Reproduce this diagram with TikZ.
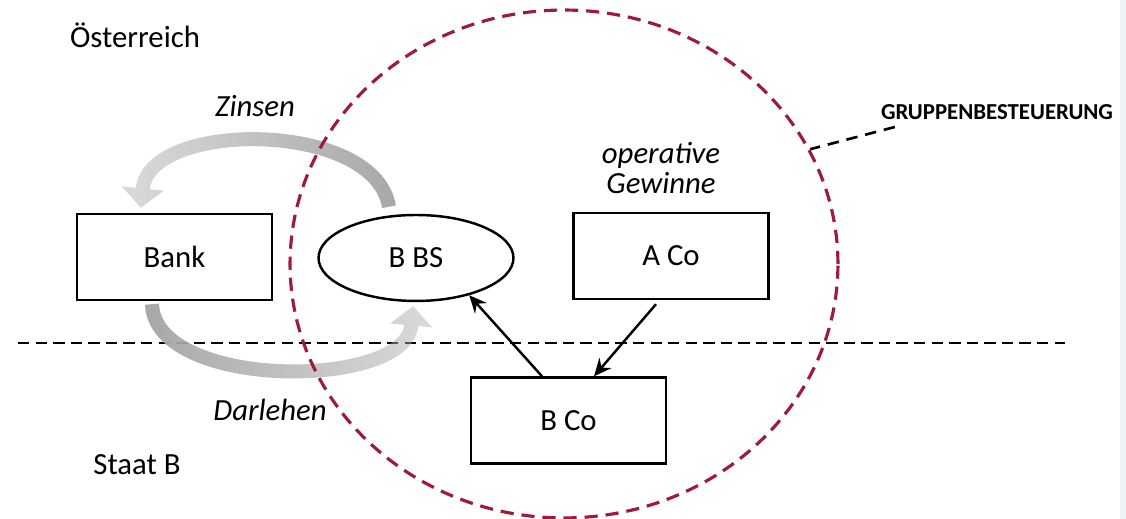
\documentclass[tikz,border=0pt]{standalone}
\usepackage{fontspec}
\setmainfont{Carlito}
\usetikzlibrary{arrows.meta,calc,shapes.geometric,positioning,fadings}
\definecolor{gruppered}{HTML}{9E1B3C}
\definecolor{flowgray}{HTML}{A8A8A8}
\definecolor{pagestrip}{HTML}{EEF2F5}
\tikzfading[name=fadetoleft, left color=transparent!55, right color=transparent!0]
\tikzfading[name=fadetoright, left color=transparent!0, right color=transparent!55]

\begin{document}
\begin{tikzpicture}[
    x=0.02cm, y=0.02cm,
    every node/.append style={font=\fontsize{17.5}{17}\selectfont},
    block/.style={rectangle, draw, line width=1.4pt, minimum width=3.9cm, minimum height=1.72cm},
    oval/.style={ellipse, draw, line width=1.4pt, minimum width=3.9cm, minimum height=1.72cm, inner sep=0pt},
    line/.style={draw, line width=1.4pt, -{Stealth[length=10pt,width=9pt,inset=3.5pt]}},
    flow/.style={draw=flowgray, line width=8pt, -{Triangle[length=11pt,width=24pt,line width=0pt]}},
    flowtext/.style={font=\fontsize{17.5}{17}\selectfont\itshape},
    border/.style={draw, line width=1.6pt, dash pattern=on 6.5pt off 3.5pt},
    leader/.style={draw, line width=1.5pt, dash pattern=on 6.5pt off 4.5pt}
]
\useasboundingbox (0,0) rectangle (1126,519);
\fill[pagestrip] (1120,0) rectangle (1126,519);

% Blocks
\node[block] (bank) at (174.5,262) {Bank};
\node[oval] (bbs) at (416,261) {B BS};
\node[block] (aco) at (671,263) {A Co};
\node[block] (bco) at (568.5,98.5) {B Co};

% Border
\coordinate (west) at (18,176);
\coordinate (east) at (1065,176);
\draw[border] (west) -- (east);

% Flows
\draw[flow, path fading=fadetoleft] ($(bbs.north)+(-27,7)$) .. controls (375,399) and (150,399) .. ($(bank.north west)+(65,5)$);
\draw[flow, path fading=fadetoright] ($(bank.south)+(-22.5,-3)$) .. controls (155,129) and (405,129) .. ($(bbs.south)+(-3,-4)$);

% Group
\node[ellipse, draw=gruppered, line width=1.8pt, dash pattern=on 7.5pt off 4.5pt,
      minimum width=10.96cm, minimum height=10.16cm] (gruppe) at (564,255) {};

% Lines
\draw[line] ($(bco.north)+(-26.5,0)$) -- (bbs.-35);
\draw[line] ($(aco.south)+(-15,-4)$) -- ($(bco.north)+(25.5,0)$);

% Labels
\node (oest) at (135,484) {Österreich};
\node (staatb) at (137,54) {Staat B};
\node[flowtext] (zinsen) at (255,413) {Zinsen};
\node[flowtext] (darlehen) at (270,109) {Darlehen};
\node[flowtext, align=center] (gewinne) at (661,351) {operative\\Gewinne};
\node[font=\fontsize{13}{15}\selectfont\bfseries] (gbst) at (997,407) {GRUPPENBESTEUERUNG};
\draw[leader] ($(gbst.west)+(20,-15)$) -- (gruppe.25);

\end{tikzpicture}
\end{document}
